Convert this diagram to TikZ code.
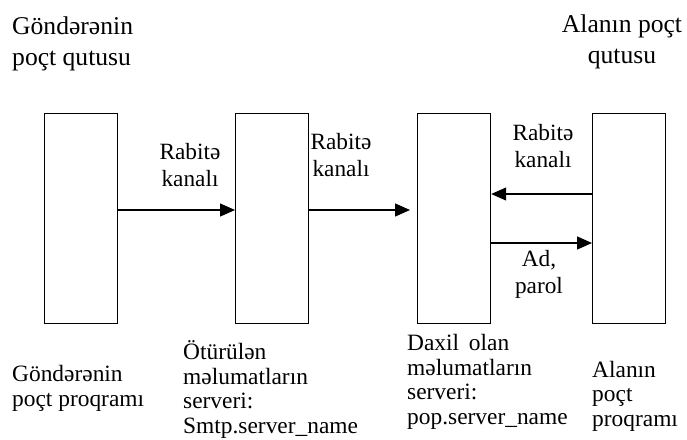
\documentclass[tikz,border=0pt]{standalone}
\usepackage{fontspec}
\setmainfont{Liberation Serif}
\usetikzlibrary{arrows.meta}
\begin{document}
\begin{tikzpicture}[x=1pt,y=-1pt,
  mailbox/.style={draw,line width=1.2pt,minimum width=73pt,minimum height=210pt,inner sep=0pt,anchor=north west},
  link/.style={line width=1.3pt,-{Triangle[length=15pt,width=13pt]}},
  headtext/.style={inner sep=0pt,font=\fontsize{25.6}{31}\selectfont},
  chantext/.style={inner sep=0pt,align=center,anchor=base,font=\fontsize{23.3}{27}\selectfont},
  roletext/.style={inner sep=0pt,align=left,anchor=base west,font=\fontsize{23.4}{24.5}\selectfont}]
\useasboundingbox (0,0) rectangle (687,439);

% the four boxes: sender program, SMTP server, POP server, receiver program
\node[mailbox] (send) at (44,113) {};
\node[mailbox] (smtp) at (235,113) {};
\node[mailbox] (pop)  at (417,113) {};
\node[mailbox] (recv) at (592,113) {};

% headings above the boxes (positions give the baseline of the last line)
\node[headtext,align=left,anchor=base west] (sendbox) at (12,65) {Göndərənin\\poçt qutusu};
\node[headtext,align=center,anchor=base] (recvbox) at (622,63) {Alanın poçt\\qutusu};

% connectors
\coordinate (popin) at (410,210);
\draw[link] (send.east |- 0,210) -- (smtp.west |- 0,210);
\draw[link] (smtp.east |- 0,210) -- (popin);
\draw[link] (recv.west |- 0,194) -- (pop.east |- 0,194);
\draw[link] (pop.east |- 0,243) -- (recv.west |- 0,243);

% channel labels
\node[chantext] (ch1) at (190,186) {Rabitə\\kanalı};
\node[chantext] (ch2) at (341,176) {Rabitə\\kanalı};
\node[chantext] (ch3) at (543,167) {Rabitə\\kanalı};
\node[chantext] (auth) at (539,293) {Ad,\\parol};

% captions below the boxes
\node[roletext] (sendprog) at (12,406) {Göndərənin\\poçt proqramı};
\node[roletext] (smtpname) at (183,433) {Ötürülən\\məlumatların\\serveri:\\Smtp.server\_name};
\node[roletext] (popname) at (407,424) {Daxil\, olan\\məlumatların\\serveri:\\pop.server\_name};
\node[roletext] (recvprog) at (592,426) {Alanın\\poçt\\proqramı};
\end{tikzpicture}
\end{document}
